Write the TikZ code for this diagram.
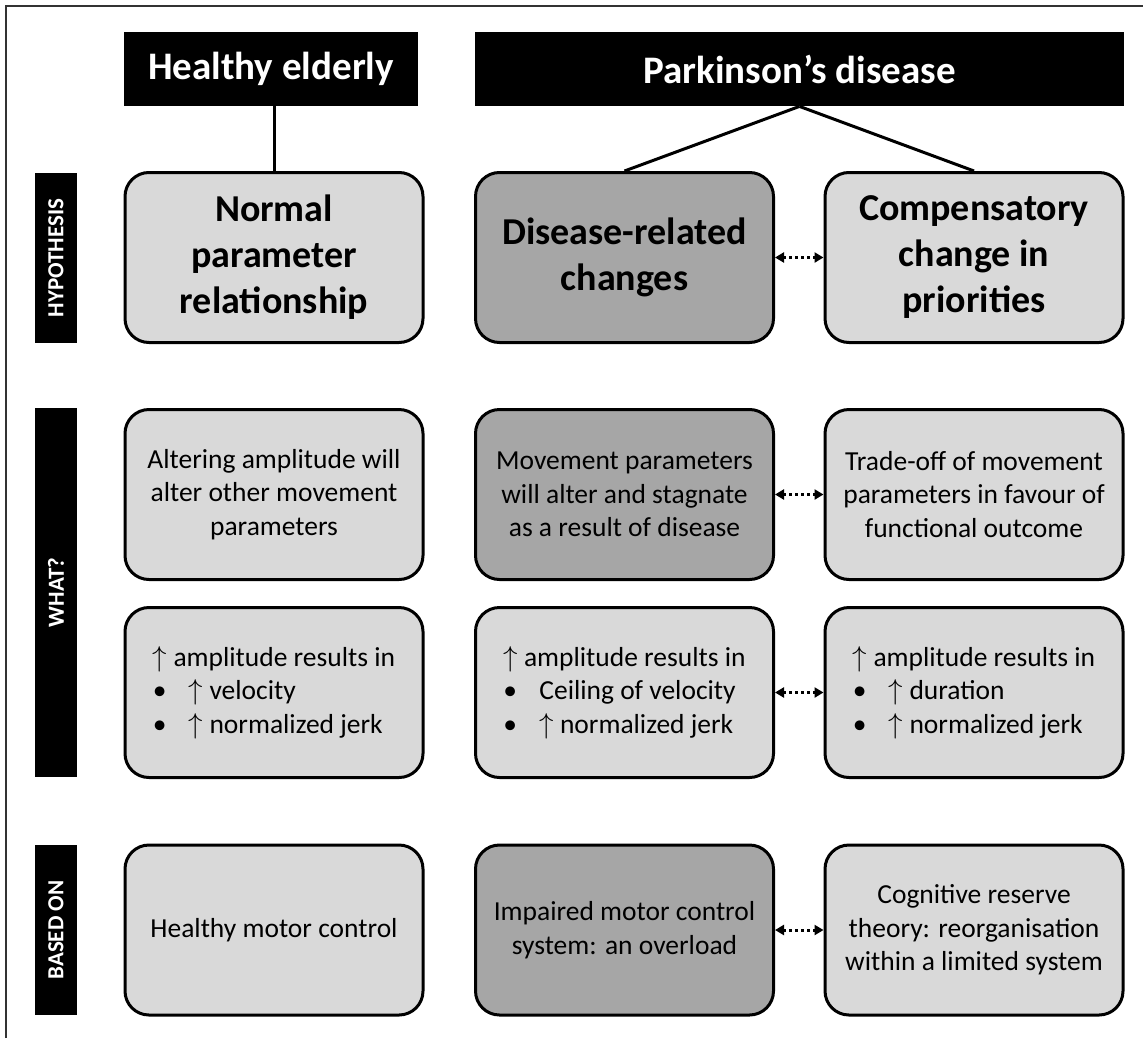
\documentclass[tikz,border=0pt]{standalone}
\usepackage{fontspec}
\setmainfont{Carlito}
\usetikzlibrary{arrows.meta}

\definecolor{lightbox}{HTML}{D9D9D9}
\definecolor{darkbox}{HTML}{A6A6A6}
\definecolor{framegray}{HTML}{333333}

\tikzset{
  header/.style={fill=black, text=white, inner sep=0pt, minimum height=37pt,
    font=\bfseries\fontsize{19.5}{23}\selectfont},
  sidebar/.style={fill=black, text=white, inner sep=0pt, rotate=90, minimum height=21pt,
    font=\bfseries\fontsize{11.5}{14}\selectfont},
  box/.style={draw=black, line width=1.5pt, rounded corners=12pt, fill=lightbox,
    minimum width=149pt, minimum height=85pt, inner sep=0pt, align=center,
    font=\fontsize{13.75}{16.75}\selectfont},
  darkbox/.style={box, fill=darkbox},
  bigtext/.style={font=\bfseries\fontsize{19}{23}\selectfont},
  link/.style={line width=1.5pt},
  dotarrow/.style={line width=1.5pt, dash pattern=on 1.5pt off 1.5pt,
    {Triangle[length=4.5pt,width=5pt]}-{Triangle[length=4.5pt,width=5pt]}}
}
\newcommand{\up}{$\uparrow$}
\newcommand{\bul}{\makebox[18pt][l]{•}}

\begin{document}
\begin{tikzpicture}[x=0.5pt, y=-0.5pt]
    \useasboundingbox (0,0) rectangle (1143,1038);
    % frame (top and left only)
    \draw[line width=0.75pt, framegray] (6,1038) -- (6,6) -- (1143,6);

    % Column headers
    \node[header, minimum width=147pt] (healthy) at (271,69) {Healthy elderly};
    \node[header, minimum width=324.5pt] (park) at (799.5,69) {Parkinson's disease};

    % Row labels
    \node[sidebar, minimum width=85pt] (labhyp) at (56,258) {HYPOTHESIS};
    \node[sidebar, minimum width=184.5pt] (labwhat) at (56,592.5) {WHAT?};
    \node[sidebar, minimum width=85pt] (labbased) at (56,930) {BASED ON};

    % Hypothesis row
    \node[box, bigtext] (hyp1) at (274,257.5) {Normal\\parameter\\relationship};
    \node[darkbox, bigtext] (hyp2) at (624.5,257.5) {Disease-related\\changes};
    \node[box, bigtext] (hyp3) at (974,257.5) {Compensatory\\change in\\priorities};

    % What? rows
    \node[box] (what1) at (274,494.5) {Altering amplitude will\\alter other movement\\parameters};
    \node[darkbox] (what2) at (624.5,494.5) {Movement parameters\\will alter and stagnate\\as a result of disease};
    \node[box] (what3) at (974,494.5) {Trade-off of movement\\parameters in favour of\\functional outcome};

    \node[box, align=left] (res1) at (274,692.5) {\up{} amplitude results in\\\bul\up{} velocity\\\bul\up{} normalized jerk};
    \node[box, align=left] (res2) at (624.5,692.5) {\up{} amplitude results in\\\bul Ceiling of velocity\\\bul\up{} normalized jerk};
    \node[box, align=left] (res3) at (974,692.5) {\up{} amplitude results in\\\bul\up{} duration\\\bul\up{} normalized jerk};

    % Based on row
    \node[box] (base1) at (274,930) {Healthy motor control};
    \node[darkbox] (base2) at (624.5,930) {Impaired motor control\\system: an overload};
    \node[box] (base3) at (974,930) {Cognitive reserve\\theory: reorganisation\\within a limited system};

    % header links
    \draw[link] (hyp1.north) -- (hyp1.north |- healthy.south);
    \draw[link] (park.south) -- (hyp2.north);
    \draw[link] (park.south) -- (hyp3.north);

    % dotted double arrows
    \draw[dotarrow] (hyp2.east) -- (hyp3.west);
    \draw[dotarrow] (what2.east) -- (what3.west);
    \draw[dotarrow] (res2.east) -- (res3.west);
    \draw[dotarrow] (base2.east) -- (base3.west);
\end{tikzpicture}
\end{document}
